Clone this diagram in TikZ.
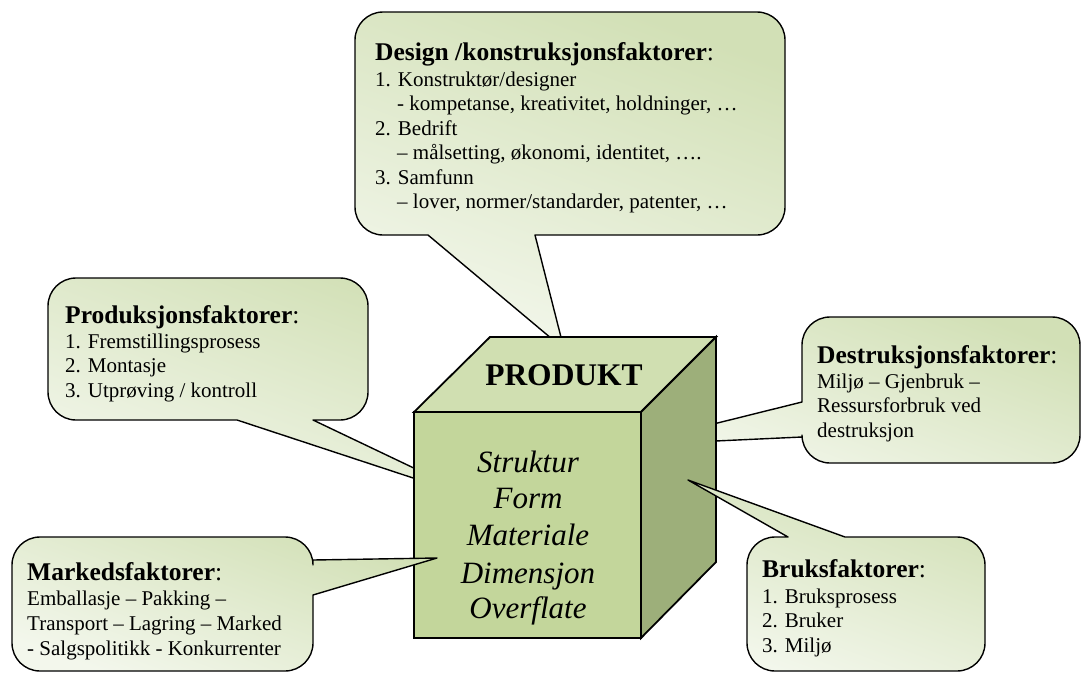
\documentclass[tikz,border=0pt]{standalone}
\usepackage{fontspec}
\setmainfont{Liberation Serif}
\definecolor{bubtop}{RGB}{210,224,182}
\definecolor{bubbot}{RGB}{243,247,236}
\definecolor{cubetop}{RGB}{208,223,177}
\definecolor{cubefront}{RGB}{195,214,155}
\definecolor{cuberight}{RGB}{157,175,122}
\newcommand\bubr{28}
% #1 style, #2 x1, #3 y1, #4 x2, #5 y2, #6 top frag, #7 right frag, #8 bottom frag, #9 left frag
\newcommand\mybubble[9]{%
\path[#1] ({#2+\bubr},#3) #6 -- ({#4-\bubr},#3)
 .. controls ({#4-0.4477*\bubr},#3) and (#4,{#3+0.4477*\bubr}) .. (#4,{#3+\bubr})
 #7 -- (#4,{#5-\bubr})
 .. controls (#4,{#5-0.4477*\bubr}) and ({#4-0.4477*\bubr},#5) .. ({#4-\bubr},#5)
 #8 -- ({#2+\bubr},#5)
 .. controls ({#2+0.4477*\bubr},#5) and (#2,{#5-0.4477*\bubr}) .. (#2,{#5-\bubr})
 #9 -- (#2,{#3+\bubr})
 .. controls (#2,{#3+0.4477*\bubr}) and ({#2+0.4477*\bubr},#3) .. ({#2+\bubr},#3) -- cycle;}
\tikzset{
  bubble/.style={draw=black, line width=1.4pt, line join=round, top color=bubtop, bottom color=bubbot, shading angle=-20},
  face/.style={draw=black, line width=1.8pt, line join=miter},
  ttl/.style={anchor=base west, inner sep=0pt, font=\fontsize{25.5}{28}\selectfont},
  bodytxt/.style={anchor=base west, inner sep=0pt, font=\fontsize{21}{24}\selectfont},
  cubetxt/.style={anchor=base, inner sep=0pt, font=\fontsize{31}{36}\selectfont\itshape}
}
\begin{document}
\begin{tikzpicture}[x=1pt,y=-1pt]
\useasboundingbox (0,0) rectangle (1082,673);
% bubbles behind the cube
\mybubble{bubble}{355}{12}{785}{235}{}{}{-- (535,235) -- (564,349) -- (428,235)}{}
\mybubble{bubble}{48}{278}{368}{420}{}{}{-- (313,420) -- (483,501) -- (237,420)}{}
\mybubble{bubble}{802}{317}{1080}{463}{}{}{}{-- (802,437) -- (629,445) -- (802,402)}
% cube
\coordinate (A) at (414,412);
\coordinate (B) at (641,412);
\coordinate (C) at (641,638);
\coordinate (D) at (414,638);
\coordinate (E) at (490,337);
\coordinate (F) at (716,337);
\coordinate (G) at (716,562);
\path[face, fill=cubetop] (A) -- (E) -- (F) -- (B) -- cycle;
\path[face, fill=cuberight] (B) -- (F) -- (G) -- (C) -- cycle;
\path[face, fill=cubefront] (A) -- (B) -- (C) -- (D) -- cycle;
% bubbles in front
\mybubble{bubble}{12}{537}{313}{671}{}{-- (313,560) -- (437,558) -- (313,595)}{}{}
\mybubble{bubble}{747}{537}{985}{671}{-- (788,537) -- (688,480) -- (845,537)}{}{}{}
% cube texts
\node[anchor=base, inner sep=0pt, font=\fontsize{31.5}{36}\selectfont\bfseries] (produkt) at (564,385) {PRODUKT};
\node[cubetxt] (s1) at (528,472) {Struktur};
\node[cubetxt] (s2) at (528,508) {Form};
\node[cubetxt] (s3) at (528,545) {Materiale};
\node[cubetxt] (s4) at (528,583) {Dimensjon};
\node[cubetxt] (s5) at (528,618) {Overflate};
% design
\node[ttl] (dt) at (375,60) {\textbf{Design /konstruksjonsfaktorer}:};
\node[bodytxt] (d1) at (375,86) {1. Konstruktør/designer};
\node[bodytxt] (d2) at (397,110.5) {- kompetanse, kreativitet, holdninger, …};
\node[bodytxt] (d3) at (375,135) {2. Bedrift};
\node[bodytxt] (d4) at (397,159.5) {– målsetting, økonomi, identitet, ….};
\node[bodytxt] (d5) at (375,184) {3. Samfunn};
\node[bodytxt] (d6) at (397,208.5) {– lover, normer/standarder, patenter, …};
% produksjon
\node[ttl] (pt) at (65,323) {\textbf{Produksjonsfaktorer}:};
\node[bodytxt] (p1) at (65,348) {1. Fremstillingsprosess};
\node[bodytxt] (p2) at (65,372.5) {2. Montasje};
\node[bodytxt] (p3) at (65,397) {3. Utprøving / kontroll};
% destruksjon
\node[ttl] (det) at (817,363) {\textbf{Destruksjonsfaktorer}:};
\node[bodytxt] (de1) at (817,388) {Miljø – Gjenbruk –};
\node[bodytxt] (de2) at (817,412.5) {Ressursforbruk ved};
\node[bodytxt] (de3) at (817,437) {destruksjon};
% markeds
\node[ttl] (mt) at (27,580) {\textbf{Markedsfaktorer}:};
\node[bodytxt] (m1) at (27,605) {Emballasje – Pakking –};
\node[bodytxt] (m2) at (27,630) {Transport – Lagring – Marked};
\node[bodytxt] (m3) at (27,655) {- Salgspolitikk - Konkurrenter};
% bruks
\node[ttl] (bt) at (762,577) {\textbf{Bruksfaktorer}:};
\node[bodytxt] (b1) at (762,603) {1. Bruksprosess};
\node[bodytxt] (b2) at (762,627.5) {2. Bruker};
\node[bodytxt] (b3) at (762,652) {3. Miljø};
\end{tikzpicture}
\end{document}
